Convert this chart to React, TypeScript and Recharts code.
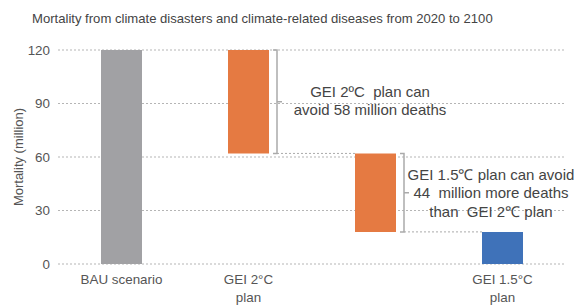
import { BarChart, Bar, XAxis, YAxis, CartesianGrid, Cell, LabelList } from 'recharts'

const categories = ['BAU', 'GEI2', 'GAP', 'GEI15']
const tickLines: Record<string, string[]> = {
  BAU: ['BAU scenario'],
  GEI2: ['GEI 2°C', 'plan'],
  GAP: [],
  GEI15: ['GEI 1.5°C', 'plan'],
}
const baseValues = [0, 62, 18, 0]
const barValues = [120, 58, 44, 18]
const barColors = ['#A1A1A4', '#E57A42', '#E57A42', '#3F72B9']
const yTicks = [0, 30, 60, 90, 120]
const notes: Record<number, string[]> = {
  1: ['GEI 2ºC  plan can', 'avoid 58 million deaths'],
  2: ['GEI 1.5℃ plan can avoid', '44  million more deaths', 'than  GEI 2℃ plan'],
}

const data = categories.map((c, i) => ({ name: c, base: baseValues[i], value: barValues[i] }))

const W = 579
const H = 307
const margin = { top: 50, right: 13, bottom: 13, left: 10 }
const yAxisWidth = 48
const band = (W - margin.left - margin.right - yAxisWidth) / categories.length

function XTick(props: any) {
  const { x, y, payload } = props
  const lines = tickLines[payload.value] || []
  return (
    <g>
      {lines.map((l, i) => (
        <text key={i} x={x} y={y + 12 + i * 18} textAnchor="middle" fontSize={13.4} fill="#555">
          {l}
        </text>
      ))}
    </g>
  )
}

function Bracket(props: any) {
  const { x, y, width, height, index } = props
  if (index !== 1 && index !== 2) return null
  const bx = x + width + 8
  const bottom = y + height
  const mid = y + height / 2
  const nextLeft = x + band
  const lines = notes[index]
  const tx = index === 1 ? bx + 93 : bx + 87
  const ty = index === 1 ? mid - 5 : mid - 13
  return (
    <g>
      <path
        d={`M${bx - 4},${y}H${bx}V${bottom}H${bx - 4}M${bx},${mid}H${bx + 5}`}
        fill="none"
        stroke="#aaa"
        strokeWidth={1.5}
      />
      <line x1={bx} y1={bottom} x2={nextLeft} y2={bottom} stroke="#aaa" strokeDasharray="2 2" />
      {lines.map((l, i) => (
        <text key={i} x={tx} y={ty + i * 18.5} textAnchor="middle" fontSize={15} fill="#444" style={{ whiteSpace: 'pre' }}>
          {l}
        </text>
      ))}
    </g>
  )
}

export default function App() {
  return (
    <div style={{ position: 'absolute', left: 0, top: 0, width: W, height: H, fontFamily: '"Liberation Sans", Arial, sans-serif' }}>
      <div style={{ position: 'absolute', left: 32, top: 11, fontSize: 13.1, color: '#444', whiteSpace: 'nowrap' }}>
        Mortality from climate disasters and climate-related diseases from 2020 to 2100
      </div>
      <BarChart width={W} height={H} data={data} margin={margin}>
        <CartesianGrid vertical={false} stroke="#b5b5b5" strokeDasharray="2 2" />
        <XAxis dataKey="name" axisLine={false} tickLine={false} tick={<XTick />} interval={0} />
        <YAxis
          width={yAxisWidth}
          domain={[0, 120]}
          ticks={yTicks}
          axisLine={false}
          tickLine={false}
          tick={{ fontSize: 13.4, fill: '#555' }}
          label={{ value: 'Mortality (million)', angle: -90, position: 'insideLeft', offset: 8, fontSize: 13, fill: '#555', style: { textAnchor: 'middle' } }}
        />
        <Bar dataKey="base" stackId="a" fill="transparent" barSize={41} isAnimationActive={false} />
        <Bar dataKey="value" stackId="a" barSize={41} isAnimationActive={false}>
          {data.map((d, i) => (
            <Cell key={d.name} fill={barColors[i]} />
          ))}
          <LabelList dataKey="value" content={<Bracket />} />
        </Bar>
      </BarChart>
    </div>
  )
}
